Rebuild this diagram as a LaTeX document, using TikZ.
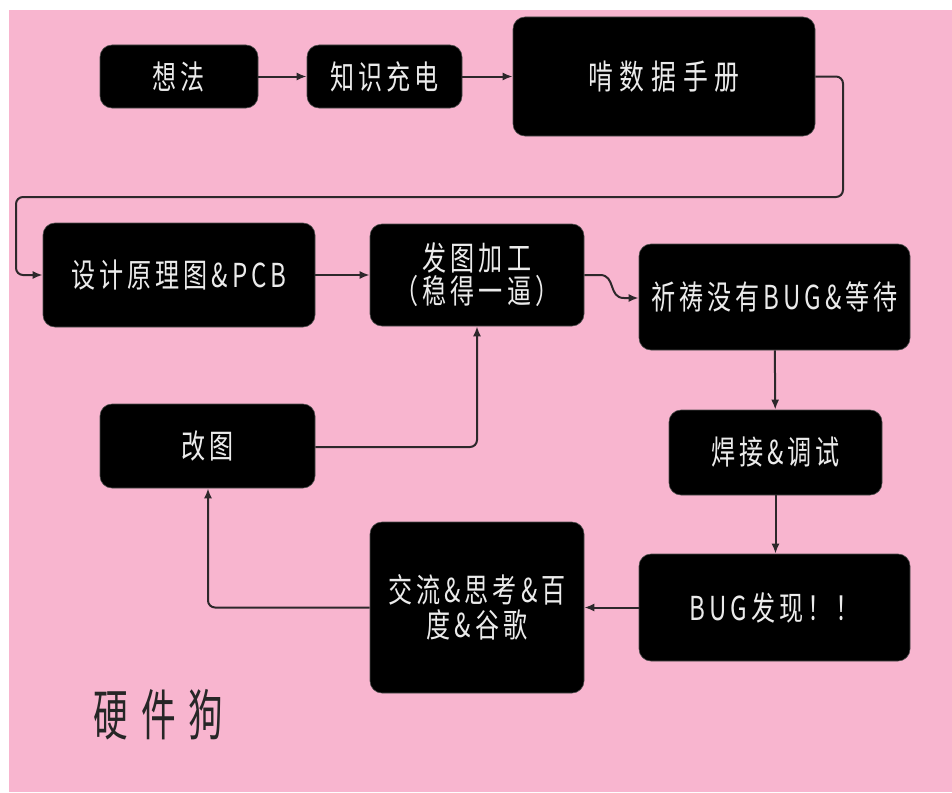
\documentclass[tikz,border=0pt]{standalone}
\usepackage{fontspec}
\usetikzlibrary{arrows.meta}
\newfontfamily\cjk[FakeStretch=0.73,LetterSpace=12]{Noto Sans CJK SC}
\newfontfamily\cjkwide[FakeStretch=0.73,LetterSpace=20]{Noto Sans CJK SC}
\newfontfamily\cjktitle[FakeStretch=0.63,LetterSpace=24]{Noto Sans CJK SC}
\definecolor{bgpink}{RGB}{248,181,207}
\definecolor{linegray}{RGB}{45,40,43}
\tikzset{
  box/.style={draw=black!70, line width=0.6pt, fill=black, text=white!92!black,
    rounded corners=12pt, align=center, inner sep=0pt,
    font=\cjk\fontsize{33}{33}\selectfont},
  conn/.style={draw=linegray, line width=2pt, rounded corners=7pt,
    -{Latex[length=10pt,width=8pt]}}
}
\begin{document}
\begin{tikzpicture}[x=1pt,y=-1pt]
\useasboundingbox (0,0) rectangle (952,792);
\fill[white] (0,0) rectangle (952,792);
\fill[bgpink] (9,10) rectangle (952,792);

\node[box, minimum width=158pt, minimum height=63pt] (idea) at (179,76.5) {想法};
\node[box, minimum width=155pt, minimum height=63pt] (charge) at (384.5,76.5) {知识充电};
\node[box, minimum width=302pt, minimum height=119pt, font=\cjkwide\fontsize{34}{33}\selectfont] (sheet) at (664,76.5) {啃数据手册};
\node[box, minimum width=272pt, minimum height=104pt] (design) at (179,275) {设计原理图\&PCB};
\node[box, minimum width=214pt, minimum height=102pt] (fab) at (477,275) {发图加工\\（稳得一逼）};
\node[box, minimum width=271pt, minimum height=106pt] (pray) at (774.5,297) {祈祷没有BUG\&等待};
\node[box, minimum width=213pt, minimum height=85pt] (solder) at (775.5,452.5) {焊接\&调试};
\node[box, minimum width=271pt, minimum height=107pt] (bug) at (774.5,607.5) {BUG发现！！};
\node[box, minimum width=214pt, minimum height=171pt, font=\cjk\fontsize{33}{35}\selectfont] (talk) at (477,607.5) {交流\&思考\&百\\度\&谷歌};
\node[box, minimum width=215pt, minimum height=84pt] (revise) at (207.5,446) {改图};

\node[anchor=west, inner sep=0pt, text=black!85, font=\cjktitle\fontsize{55}{55}\selectfont] (title) at (93,715) {硬件狗};

\coordinate (c1) at (843,76.5);
\coordinate (c2) at (843,197);
\coordinate (c3) at (16,197);
\coordinate (c4) at (16,275);
\coordinate (c5) at (208,607.5);
\coordinate (c6) at (477,447);

\draw[conn] (idea) -- (charge);
\draw[conn] (charge) -- (sheet.west |- charge);
\draw[conn] (sheet.east |- c1) -- (c1) -- (c2) -- (c3) -- (c4) -- (design.west);
\draw[conn] (design) -- (fab);
\draw[conn, rounded corners=0pt] (fab.east) -- (600,275) .. controls (616,275) and (608,298) .. (624,298) -- (pray.west |- 0,298);
\draw[conn] (pray) -- (solder);
\draw[conn] (solder) -- (bug.north -| solder);
\draw[conn] (bug.west) -- (talk.east |- bug.west);
\draw[conn] (talk.west |- c5) -- (c5) -- (revise.south -| c5);
\draw[conn] (revise.east |- c6) -- (c6) -- (fab.south);
\end{tikzpicture}
\end{document}
